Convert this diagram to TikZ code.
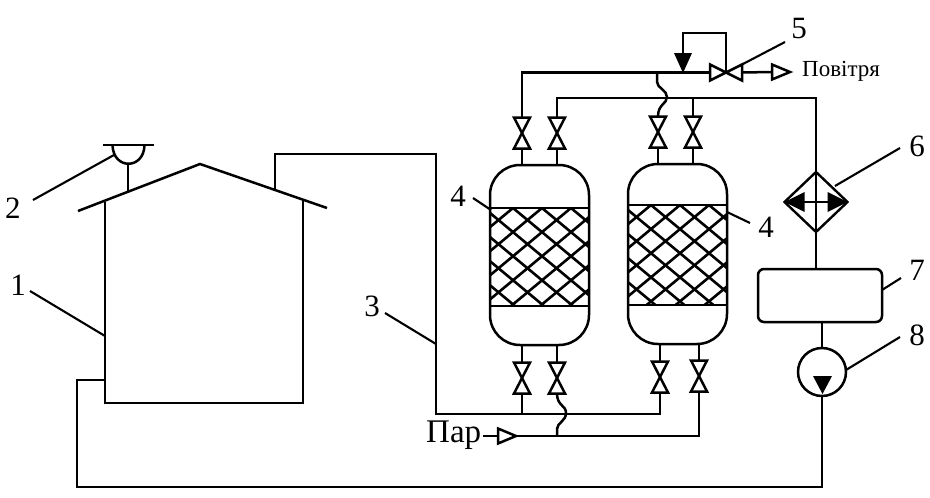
\documentclass[tikz,border=0pt]{standalone}
\usepackage{fontspec}
\setmainfont{Liberation Serif}
\usetikzlibrary{shapes.geometric,calc}
\tikzset{
 pipe/.style={line width=2.5pt,line join=miter},
 leader/.style={line width=2.1pt},
 num/.style={font=\fontsize{31}{32}\selectfont,inner sep=0pt},
 vbox/.style={minimum width=16pt,minimum height=31pt,inner sep=0pt,outer sep=0pt},
 hbox/.style={minimum width=32pt,minimum height=16pt,inner sep=0pt,outer sep=0pt},
 trbox/.style={minimum width=18pt,minimum height=15pt,inner sep=0pt,outer sep=0pt},
 vessel/.style={draw,line width=2.5pt,rounded corners=30pt,minimum width=99pt,minimum height=180pt,inner sep=0pt,outer sep=0pt},
 mesh/.style={line width=2.6pt},
}
\newcommand{\vvalve}[2]{\node[vbox] (#1) at #2 {};
 \draw[pipe,fill=white] (#1.north west) -- (#1.north east) -- (#1.south west) -- (#1.south east) -- cycle;}
\newcommand{\opentri}[2]{\node[trbox] (#1) at #2 {};
 \draw[pipe,fill=white] (#1.north west) -- (#1.east) -- (#1.south west) -- cycle;}
\newcommand{\meshfill}[5]{% x0,x1,ytop,ybot,phase
 \begin{scope}
 \clip (#1,#3) rectangle (#2,#4);
 \foreach \k in {-8,...,12}{
  \draw[mesh] ({#1+#5+29*\k},#3) -- ++(130,108);
  \draw[mesh] ({#1+#5+29*\k},#3) -- ++(-130,108);
 }
 \end{scope}}
\begin{document}
\begin{tikzpicture}[x=1pt,y=-1pt]
\useasboundingbox (0,0) rectangle (930,498);
% house
\coordinate (eaveL) at (78,211);
\coordinate (apex) at (200,164);
\coordinate (eaveR) at (327,208);
\coordinate (wallLt) at (105,202);
\coordinate (wallRt) at (303,200);
\coordinate (wallLb) at (105,403);
\coordinate (wallRb) at (303,403);
\draw[pipe] (eaveL) -- (apex) -- (eaveR);
\draw[pipe] (wallLt) -- (wallLb) -- (wallRb) -- (wallRt);
% lamp
\coordinate (lampB) at (128,191);
\draw[pipe] (103,145) -- (154,145);
\draw[pipe] (112.5,145) .. controls (113,170) and (144,170) .. (144.5,145);
\draw[pipe] (128,164) -- (lampB);
% vessels
\node[vessel] (tankA) at (539.5,255) {};
\node[vessel] (tankB) at (677.5,254) {};
\meshfill{490}{589}{208}{306}{23}
\meshfill{628}{727}{205}{305}{23}
\draw[line width=2.8pt] (490,208) -- (589,208) (490,306) -- (589,306);
\draw[line width=2.8pt] (628,205) -- (727,205) (628,305) -- (727,305);
\draw[line width=2.8pt] (490,208) -- (490,306) (589,208) -- (589,306);
\draw[line width=2.8pt] (628,205) -- (628,305) (727,205) -- (727,305);
% valves
\vvalve{vA}{(522,133)}
\vvalve{vB}{(557,133)}
\vvalve{vC}{(658,132)}
\vvalve{vD}{(693,132)}
\vvalve{vE}{(522,378)}
\vvalve{vF}{(557,378)}
\vvalve{vG}{(660,377)}
\vvalve{vH}{(699,376)}
\node[hbox] (vCtl) at (726,72.5) {};
\draw[pipe,fill=white] (vCtl.north west) -- (vCtl.south west) -- (vCtl.north east) -- (vCtl.south east) -- cycle;
% stubs to vessels
\draw[pipe] (vA.south) -- (vA.south |- tankA.north);
\draw[pipe] (vB.south) -- (vB.south |- tankA.north);
\draw[pipe] (vC.south) -- (vC.south |- tankB.north);
\draw[pipe] (vD.south) -- (vD.south |- tankB.north);
\draw[pipe] (vE.north) -- (vE.north |- tankA.south);
\draw[pipe] (vF.north) -- (vF.north |- tankA.south);
\draw[pipe] (vG.north) -- (vG.north |- tankB.south);
\draw[pipe] (vH.north) -- (vH.north |- tankB.south);
% cooler, filter, pump
\node[diamond,draw,line width=2.4pt,aspect=1.05,minimum width=63pt,minimum height=60pt,inner sep=0pt,outer sep=0pt] (cool) at (816,202) {};
\node[draw,line width=2.5pt,rounded corners=6pt,minimum width=124pt,minimum height=53pt,inner sep=0pt,outer sep=0pt] (filt) at (820,295.5) {};
\node[circle,draw,line width=2.5pt,minimum size=48pt,inner sep=0pt,outer sep=0pt] (pump) at (822,372) {};
\fill (cool.west) -- ++(20,-10) -- ++(0,20) -- cycle;
\fill (cool.east) -- ++(-20,-10) -- ++(0,20) -- cycle;
\draw[pipe] (cool.west) -- (cool.east);
% upper header
\coordinate (hdrL) at (522,72.5);
\coordinate (hdrJ) at (657,72.5);
\coordinate (hdr2L) at (557,98);
\coordinate (hdr2R) at (816,98);
\draw[pipe] (vA.north) -- (hdrL) -- (vCtl.west);
\draw[pipe] (vB.north) -- (hdr2L) -- (hdr2R) -- (cool.south);
\draw[pipe] (vD.north) -- (vD.north |- hdr2R);
\draw[pipe] (cool.south) -- (cool.south |- filt.north);
\draw[pipe] (filt.south -| pump.north) -- (pump.north);
\draw[pipe] (hdrJ) -- (657,82) .. controls (657,88) and (667,90) .. (667,97) .. controls (667,104) and (658,104) .. (vC.north);
% control loop
\coordinate (ctlT) at (726,33);
\coordinate (ctlL) at (683,33);
\draw[pipe,line width=2.8pt] (vCtl.center) -- (ctlT) -- (ctlL) -- (683,55);
\fill (674,53) -- (692,53) -- (683,73) -- cycle;
% air outlet
\opentri{air}{(781,72)}
\draw[pipe] (vCtl.east) -- (air.west);
\node[font=\fontsize{23}{25}\selectfont,inner sep=0pt,anchor=west] (airT) at (802,71) {Повітря};
% lower headers
\coordinate (pipeA) at (275,191);
\coordinate (pipeB) at (275,154);
\coordinate (pipeC) at (436,154);
\coordinate (pipeD) at (436,414);
\coordinate (pipeE) at (660,414);
\draw[pipe] (pipeA) -- (pipeB) -- (pipeC) -- (pipeD) -- (pipeE) -- (vG.south);
\draw[pipe] (vE.south) -- (vE.south |- pipeD);
\opentri{steam}{(507,436)}
\node[font=\fontsize{33}{35}\selectfont,inner sep=0pt,anchor=west] (steamT) at (426,435) {Пар};
\coordinate (stmJ) at (557,436);
\draw[pipe] (483,436) -- (steam.west);
\draw[pipe] (steam.east) -- (699,436) -- (vH.south);
\draw[pipe] (stmJ) -- (557,429) .. controls (557,423) and (566,421) .. (566,413) .. controls (566,405) and (557,406) .. (vF.south);
% return line
\coordinate (retA) at (105,380);
\coordinate (retB) at (77,380);
\coordinate (retC) at (77,487);
\coordinate (retD) at (822,487);
\draw[pipe] (retA) -- (retB) -- (retC) -- (retD) -- (pump.south);
\fill (813,376) -- (832,376) -- (822.5,394) -- cycle;
% labels & leaders
\node[num] (n1) at (18,285) {1};
\node[num] (n2) at (13,208) {2};
\node[num] (n3) at (372,306) {3};
\node[num] (n4a) at (458,196) {4};
\node[num] (n4b) at (766,227) {4};
\node[num] (n5) at (799,29) {5};
\node[num] (n6) at (917,146) {6};
\node[num] (n7) at (917,270) {7};
\node[num] (n8) at (917,335) {8};
\draw[leader] (30,291) -- (105,336);
\draw[leader] (33,200) -- (114,155);
\draw[leader] (385,313) -- (436,344);
\draw[leader] (473,198) -- (491,210);
\draw[leader] (750,223) -- (727,212);
\draw[leader] (785,42) -- (vCtl.north east);
\draw[leader] (900,148) -- (835,186);
\draw[leader] (901,278) -- (882,290);
\draw[leader] (900,337) -- (846,370);
\end{tikzpicture}
\end{document}
